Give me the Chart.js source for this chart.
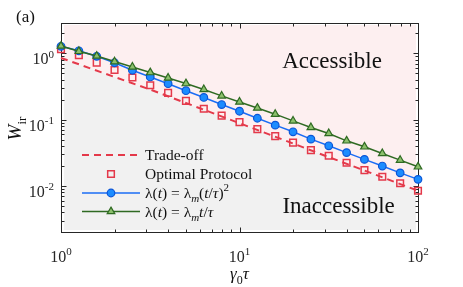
<!DOCTYPE html>
<html lang="en">
<head>
  <meta charset="UTF-8">
  <title>W_ir vs gamma0 tau</title>
  <script src="https://cdn.jsdelivr.net/npm/chart.js"></script>
  <style>
    body { margin: 0; background: #fff; }
  </style>
</head>
<body>
  <canvas id="chart" width="463" height="287"></canvas>
  <script>
    // values
    const gammaTau = [1, 1.259, 1.585, 1.995, 2.512, 3.162, 3.981, 5.012, 6.31, 7.943, 10,
                      12.59, 15.85, 19.95, 25.12, 31.62, 39.81, 50.12, 63.1, 79.43, 100];
    const optimal = [1.149, 0.933, 0.725, 0.561, 0.431, 0.330, 0.253, 0.192, 0.146, 0.115, 0.0917,
                     0.0720, 0.0565, 0.0451, 0.0348, 0.0286, 0.0224, 0.0174, 0.0138, 0.0110, 0.0085];
    const quadratic = [1.274, 1.09, 0.901, 0.720, 0.555, 0.440, 0.348, 0.273, 0.216, 0.169, 0.134,
                       0.105, 0.0827, 0.0656, 0.0509, 0.0404, 0.0319, 0.0252, 0.0200, 0.0158, 0.0126];
    const linear = [1.288, 1.072, 0.911, 0.750, 0.623, 0.513, 0.425, 0.350, 0.285, 0.228, 0.185,
                    0.150, 0.121, 0.0960, 0.0763, 0.0620, 0.0480, 0.0390, 0.0310, 0.0246, 0.0195];
    const tradeX = [1, 3.162, 10, 31.62, 100];
    const tradeY = [0.85, 0.284, 0.0886, 0.0273, 0.0085];

    const xTickExp = [0, 1, 2];
    const yTickExp = [0, -1, -2];
    const regionLabels = [
      { text: 'Accessible', x: 33.0, y: 0.595 },
      { text: 'Inaccessible', x: 35.9, y: 0.00393 }
    ];

    const SERIF = '"Liberation Serif", "DejaVu Serif", serif';
    const RED = '#e4394a', BLUE = '#1a6cf5', GREEN = '#2f6a22';

    const pts = (xs, ys) => xs.map((x, i) => ({ x: x, y: ys[i] }));

    function font(size, italic) {
      return (italic ? 'italic ' : '') + size + 'px ' + SERIF;
    }

    // parts: [text, kind] kind: r, i, sub, subi, sup
    function drawRich(ctx, parts, x, y, size, align) {
      const small = Math.round(size * 0.7);
      const spec = parts.map(([t, k]) => {
        const sz = (k === 'sub' || k === 'subi' || k === 'sup') ? small : size;
        const it = (k === 'i' || k === 'subi');
        ctx.font = font(sz, it);
        const dy = (k === 'sub' || k === 'subi') ? size * 0.28 : (k === 'sup' ? -size * 0.42 : 0);
        return { t, f: font(sz, it), w: ctx.measureText(t).width, dy };
      });
      const total = spec.reduce((a, s) => a + s.w, 0);
      let cx = align === 'center' ? x - total / 2 : (align === 'right' ? x - total : x);
      ctx.textAlign = 'left';
      spec.forEach(s => {
        ctx.font = s.f;
        ctx.fillText(s.t, cx, y + s.dy);
        cx += s.w;
      });
    }

    function marker(ctx, style, x, y, r, fill, stroke, bw) {
      ctx.save();
      ctx.beginPath();
      if (style === 'circle') {
        ctx.arc(x, y, r, 0, Math.PI * 2);
      } else if (style === 'rect') {
        const s = r * Math.SQRT1_2;
        ctx.rect(x - s, y - s, 2 * s, 2 * s);
      } else if (style === 'triangle') {
        ctx.moveTo(x, y - r);
        ctx.lineTo(x + r * 0.866, y + r * 0.5);
        ctx.lineTo(x - r * 0.866, y + r * 0.5);
        ctx.closePath();
      }
      if (fill) { ctx.fillStyle = fill; ctx.fill(); }
      ctx.lineWidth = bw;
      ctx.strokeStyle = stroke;
      ctx.stroke();
      ctx.restore();
    }

    const matlabAxes = {
      id: 'matlabAxes',
      beforeDatasetsDraw(chart) {
        const { ctx, chartArea: a, scales: { x: xs, y: ys } } = chart;
        const line = tradeX.map((v, i) => [xs.getPixelForValue(v), ys.getPixelForValue(tradeY[i])]);
        ctx.save();
        ctx.beginPath();
        ctx.rect(a.left + 3, a.top + 2, a.width - 5, a.height - 4);
        ctx.clip();
        [['#fdeff0', a.top - 10], ['#f1f1f1', a.bottom + 10]].forEach(([col, edge]) => {
          ctx.beginPath();
          line.forEach(([px, py], i) => i ? ctx.lineTo(px, py) : ctx.moveTo(px, py));
          ctx.lineTo(line[line.length - 1][0] + 10, line[line.length - 1][1]);
          ctx.lineTo(line[line.length - 1][0] + 10, edge);
          ctx.lineTo(line[0][0] - 10, edge);
          ctx.lineTo(line[0][0] - 10, line[0][1]);
          ctx.closePath();
          ctx.fillStyle = col;
          ctx.fill();
        });
        ctx.restore();

        // box and inward ticks
        ctx.save();
        ctx.strokeStyle = '#262626';
        ctx.lineWidth = 1;
        const L = Math.round(a.left) + 0.5, R = Math.round(a.right) + 0.5;
        const T = Math.round(a.top) + 0.5, B = Math.round(a.bottom) + 0.5;
        ctx.strokeRect(L, T, R - L, B - T);
        ctx.beginPath();
        for (let e = 0; e <= 2; e++) {
          for (let m = 1; m <= 9; m++) {
            const v = m * Math.pow(10, e);
            if (v < xs.min || v > xs.max) continue;
            const px = Math.round(xs.getPixelForValue(v)) + 0.5;
            const len = m === 1 ? 5 : 3;
            ctx.moveTo(px, B); ctx.lineTo(px, B - len);
            ctx.moveTo(px, T); ctx.lineTo(px, T + len);
          }
        }
        for (let e = -3; e <= 0; e++) {
          for (let m = 1; m <= 9; m++) {
            const v = m * Math.pow(10, e);
            if (v < ys.min || v > ys.max) continue;
            const py = Math.round(ys.getPixelForValue(v)) + 0.5;
            const len = m === 1 ? 5 : 3;
            ctx.moveTo(L, py); ctx.lineTo(L + len, py);
            ctx.moveTo(R, py); ctx.lineTo(R - len, py);
          }
        }
        ctx.stroke();
        ctx.restore();
      },
      afterDatasetsDraw(chart) {
        const { ctx, chartArea: a, scales: { x: xs, y: ys } } = chart;
        ctx.save();
        ctx.fillStyle = '#262626';
        ctx.textBaseline = 'alphabetic';
        xTickExp.forEach(e => {
          drawRich(ctx, [['10', 'r'], [String(e), 'sup']], xs.getPixelForValue(Math.pow(10, e)), a.bottom + 30, 16, 'center');
        });
        yTickExp.forEach(e => {
          drawRich(ctx, [['10', 'r'], [e < 0 ? '-' + (-e) : String(e), 'sup']], a.left - 7, ys.getPixelForValue(Math.pow(10, e)) + 11, 16, 'right');
        });
        // axis titles
        ctx.fillStyle = '#111';
        drawRich(ctx, [['γ', 'i'], ['0', 'sub'], ['τ', 'i']], (a.left + a.right) / 2, a.bottom + 47, 17, 'center');
        ctx.save();
        ctx.translate(21, (a.top + a.bottom) / 2 + 1);
        ctx.rotate(-Math.PI / 2);
        drawRich(ctx, [['W', 'i'], ['ir', 'sub']], 0, 0, 19, 'center');
        ctx.restore();
        ctx.font = font(17, false);
        ctx.textAlign = 'left';
        ctx.fillText('(a)', 16, 22);

        // region labels
        regionLabels.forEach(l => {
          ctx.font = font(23, false);
          ctx.textAlign = 'center';
          ctx.fillText(l.text, xs.getPixelForValue(l.x), ys.getPixelForValue(l.y));
        });

        // legend
        const lx0 = a.left + 21, lx1 = a.left + 79, mx = a.left + 50, tx = a.left + 84;
        const rows = [a.bottom - 77, a.bottom - 58, a.bottom - 39, a.bottom - 20.5];
        const entries = [
          { parts: [['Trade-off', 'r']], line: RED, dash: [7, 5] },
          { parts: [['Optimal Protocol', 'r']], marker: ['rect', 4.7, null, RED, 1.5] },
          { parts: [['λ(', 'r'], ['t', 'i'], [') = λ', 'r'], ['m', 'subi'], ['(', 'r'], ['t', 'i'], ['/', 'r'], ['τ', 'i'], [')', 'r'], ['2', 'sup']],
            line: BLUE, marker: ['circle', 3.8, '#1c8cff', '#0b55d6', 1.2] },
          { parts: [['λ(', 'r'], ['t', 'i'], [') = λ', 'r'], ['m', 'subi'], ['t', 'i'], ['/', 'r'], ['τ', 'i']],
            line: GREEN, marker: ['triangle', 4.4, '#8cc06c', GREEN, 1.2] }
        ];
        entries.forEach((en, i) => {
          const y = rows[i];
          if (en.line) {
            ctx.save();
            ctx.strokeStyle = en.line;
            ctx.lineWidth = en.dash ? 2 : 1.5;
            ctx.setLineDash(en.dash || []);
            ctx.beginPath();
            ctx.moveTo(lx0, y); ctx.lineTo(lx1, y);
            ctx.stroke();
            ctx.restore();
          }
          if (en.marker) {
            const [st, r, f, s, bw] = en.marker;
            marker(ctx, st, mx, y, r, f, s, bw);
          }
          ctx.fillStyle = '#111';
          drawRich(ctx, en.parts, tx, y + 5, 15.5, 'left');
        });
        ctx.restore();
      }
    };

    new Chart(document.getElementById('chart'), {
      type: 'line',
      data: {
        datasets: [
          {
            label: 'Trade-off',
            data: pts(tradeX, tradeY),
            borderColor: RED,
            borderWidth: 2,
            borderDash: [7, 5],
            pointRadius: 0,
            fill: false,
            order: 4
          },
          {
            label: 'Optimal Protocol',
            data: pts(gammaTau, optimal),
            showLine: false,
            pointStyle: 'rect',
            pointRadius: 4.7,
            pointBorderWidth: 1.5,
            pointBorderColor: RED,
            pointBackgroundColor: 'rgba(0,0,0,0)',
            order: 3
          },
          {
            label: 'quadratic',
            data: pts(gammaTau, quadratic),
            borderColor: BLUE,
            borderWidth: 1.5,
            pointStyle: 'circle',
            pointRadius: 3.8,
            pointBorderWidth: 1.2,
            pointBorderColor: '#0b55d6',
            pointBackgroundColor: '#1c8cff',
            order: 2
          },
          {
            label: 'linear',
            data: pts(gammaTau, linear),
            borderColor: GREEN,
            borderWidth: 1.5,
            pointStyle: 'triangle',
            pointRadius: 4.4,
            pointBorderWidth: 1.2,
            pointBorderColor: GREEN,
            pointBackgroundColor: '#8cc06c',
            order: 1
          }
        ]
      },
      options: {
        responsive: false,
        animation: false,
        clip: false,
        layout: { padding: { left: 61, right: 45, top: 23, bottom: 55 } },
        plugins: { legend: { display: false }, tooltip: { enabled: false } },
        elements: { line: { tension: 0 } },
        scales: {
          x: { type: 'logarithmic', min: 1, max: 100, display: false },
          y: { type: 'logarithmic', min: 0.00203, max: 2.86, display: false }
        }
      },
      plugins: [matlabAxes]
    });
  </script>
</body>
</html>
